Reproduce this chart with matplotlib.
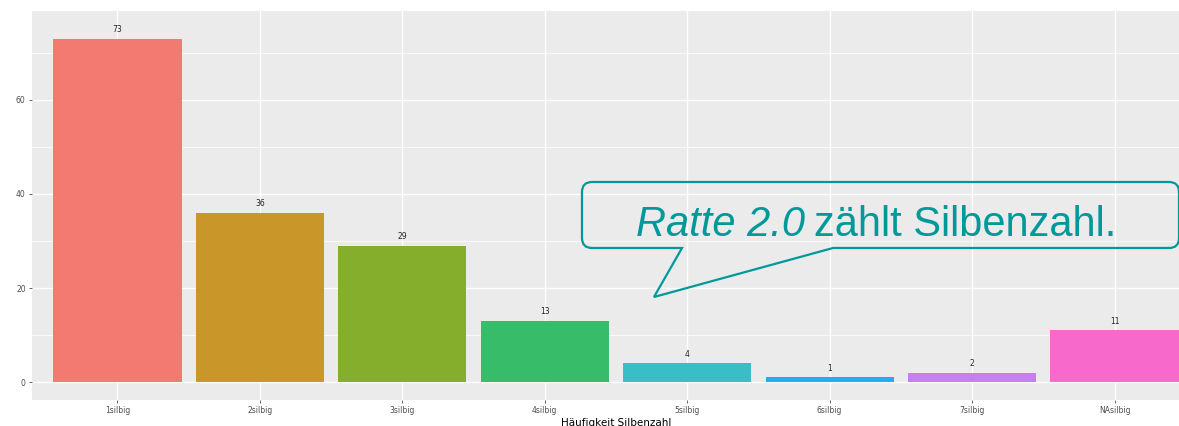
import matplotlib
matplotlib.use("Agg")
import matplotlib.pyplot as plt
from matplotlib.path import Path
from matplotlib.patches import PathPatch
import numpy as np

categories = ["1silbig", "2silbig", "3silbig", "4silbig", "5silbig", "6silbig", "7silbig", "NAsilbig"]
counts = [73, 36, 29, 13, 4, 1, 2, 11]
colors = ["#F37A70", "#C9962A", "#84AE2C", "#37BC6A", "#38BEC4", "#2AAAF5", "#C47FF5", "#F76ACC"]
y_ticks = [0, 20, 40, 60]
x_label = "Häufigkeit Silbenzahl"

W, H = 1179, 426
fig = plt.figure(figsize=(W / 100, H / 100), dpi=100)
fig.patch.set_facecolor("white")

# panel extends beyond right edge (cropped like the reference)
left, right, bottom, top = 32 / W, 1200 / W, 1 - 400 / H, 1 - 11 / H
ax = fig.add_axes([left, bottom, right - left, top - bottom])
ax.set_facecolor("#EBEBEB")

x = np.arange(len(categories))
ax.bar(x, counts, width=0.9, color=colors, zorder=3)
for xi, c in zip(x, counts):
    ax.text(xi, c + 1.0, str(c), ha="center", va="bottom", fontsize=5.5,
            color="#222222", zorder=4)

ax.set_xlim(-0.6, len(categories) - 0.4)
ax.set_ylim(-3.8, 78.9)
ax.set_xticks(x)
ax.set_xticklabels(categories)
ax.set_yticks(y_ticks)
ax.set_yticks([10, 30, 50, 70], minor=True)
ax.tick_params(axis="both", which="major", labelsize=5.5, labelcolor="#4D4D4D",
               color="#4D4D4D", length=2.5, width=0.6, pad=2)
ax.tick_params(axis="y", which="minor", length=0)
ax.grid(True, which="major", color="white", linewidth=1.0, zorder=0)
ax.grid(True, which="minor", axis="y", color="white", linewidth=0.5, zorder=0)
ax.set_axisbelow(True)
for s in ax.spines.values():
    s.set_visible(False)
ax.set_xlabel(x_label, fontsize=7.5, color="black", labelpad=2)

# speech bubble callout (pixel coordinates -> figure fraction)
def fp(px, py):
    return (px / W, 1 - py / H)

L, T, R, B, r = 582, 182, 1179, 248, 10
tail_l, tail_r, tip = 682, 833, (654, 297)
pts = [
    (fp(L + r, T), Path.MOVETO),
    (fp(R - r, T), Path.LINETO),
    (fp(R, T), Path.CURVE3), (fp(R, T + r), Path.CURVE3),
    (fp(R, B - r), Path.LINETO),
    (fp(R, B), Path.CURVE3), (fp(R - r, B), Path.CURVE3),
    (fp(tail_r, B), Path.LINETO),
    (fp(*tip), Path.LINETO),
    (fp(tail_l, B), Path.LINETO),
    (fp(L + r, B), Path.LINETO),
    (fp(L, B), Path.CURVE3), (fp(L, B - r), Path.CURVE3),
    (fp(L, T + r), Path.LINETO),
    (fp(L, T), Path.CURVE3), (fp(L + r, T), Path.CURVE3),
    (fp(L + r, T), Path.CLOSEPOLY),
]
verts, codes = zip(*pts)
bubble = PathPatch(Path(verts, codes), facecolor="none", edgecolor="#00999A",
                   linewidth=1.6, transform=fig.transFigure, zorder=10)
fig.patches.append(bubble)

teal = "#00999A"
base_y = 1 - 236 / H
t1 = fig.text(636 / W, base_y, "Ratte 2.0", fontsize=30, style="italic",
              color=teal, family="Liberation Sans", ha="left", va="baseline")
fig.canvas.draw()
bb = t1.get_window_extent()
fig.text((bb.x1 + 9) / W, base_y, "zählt Silbenzahl.", fontsize=30,
         color=teal, family="Liberation Sans", ha="left", va="baseline")

fig.savefig("out.png", dpi=100)
